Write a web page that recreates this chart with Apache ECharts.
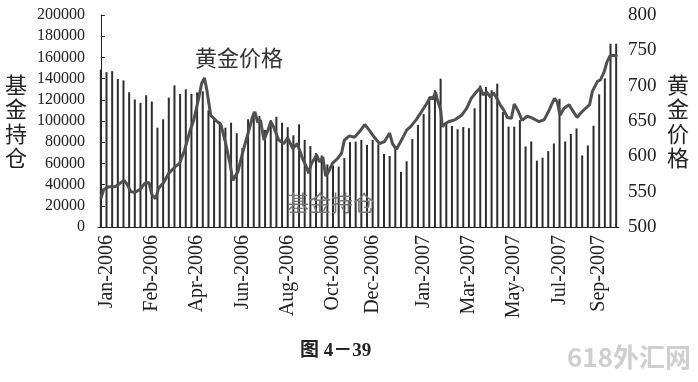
<!DOCTYPE html>
<html>
<head>
<meta charset="utf-8">
<script src="https://cdn.jsdelivr.net/npm/echarts@6/dist/echarts.min.js"></script>
<style>
html,body{margin:0;padding:0;background:#fff;}
#chart{width:698px;height:382px;}
</style>
</head>
<body>
<div id="chart"></div>
<script>
// Weekly fund holdings (基金持仓), Jan-2006 .. Sep-2007
const fundHolding = [
  148600,146100,147000,139600,138300,127100,120300,117100,124300,118400,
  93700,101600,122100,133600,125500,129900,125500,127000,128000,110000,
  102800,99400,93700,98400,88500,74500,101600,108700,104700,91600,
  100900,104000,98400,94100,86500,96900,82200,76300,69800,67500,
  59000,58000,57000,65000,80000,80500,82200,77500,82200,78000,
  69000,67000,75000,52000,62000,82900,96300,106500,122700,129000,
  139900,98500,95300,92200,94200,93200,112000,133600,132100,129000,
  135200,108500,94700,94700,100900,76000,80700,62600,65400,71600,
  78800,120900,80700,87800,93000,67500,76900,95600,125100,140200,
  172900,172900
];

// Gold price (黄金价格): reading position in weeks from start, and price
const goldWeek = [
  0,0.5,1.4,2.5,3.4,4.1,4.6,5.3,6.0,6.9,
  7.8,8.5,9.0,9.7,10.2,11.1,12.0,13.1,13.9,14.8,
  15.7,16.4,17.3,17.8,18.3,18.7,19.4,20.3,21.2,22.0,
  22.8,23.3,24.2,25.0,25.9,26.8,27.2,27.7,28.2,28.8,
  29.5,30.0,30.5,31.4,32.3,33.0,33.9,34.7,35.6,36.3,
  36.7,37.2,38.1,38.6,39.2,39.7,40.2,40.9,41.8,42.5,
  43.0,43.9,44.8,45.7,46.6,47.4,48.3,49.2,50.1,51.0,
  51.5,52.2,53.1,54.0,54.7,55.7,56.6,57.5,58.2,58.6,
  59.1,59.4,60.0,60.3,60.8,61.4,62.6,63.7,64.6,65.4,
  66.3,67.0,67.5,68.1,68.8,69.3,69.8,70.5,71.1,71.8,
  72.5,73.0,73.7,74.4,75.3,76.2,77.4,78.3,79.2,80.1,
  80.6,81.1,81.8,82.7,83.2,84.1,84.7,85.6,86.3,86.8,
  87.7,88.2,88.9,89.4,89.9,90.6,91.2
];
const goldPrice = [
  540,553,557,557,562,566,561,550,549,553,
  562,563,546,540,555,563,576,585,590,609,
  635,651,683,703,711,695,658,651,645,620,
  590,566,578,604,630,656,663,648,651,623,
  637,649,642,623,618,626,611,618,597,585,
  576,590,602,592,599,572,578,590,597,604,
  623,629,627,635,645,637,627,618,621,633,
  618,610,623,637,642,652,663,674,684,681,
  691,681,666,642,646,649,652,658,668,682,
  691,697,687,691,684,690,684,673,666,655,
  654,674,664,651,657,654,649,652,666,682,
  677,658,668,673,666,655,661,668,673,692,
  706,708,720,734,742,743,741
];

// X-axis tick labels and the week they sit under
const tickLabels = ['Jan-2006','Feb-2006','Apr-2006','Jun-2006','Aug-2006','Oct-2006','Dec-2006','Jan-2007','Mar-2007','May-2007','Jul-2007','Sep-2007'];
const tickWeek = [1,9,17,25,33,41,48,57,65,73,81,88];

const weekNo = fundHolding.map((_, i) => String(i + 1));

const serif = 'Liberation Serif';
const cjk = 'Noto Sans CJK SC';

const chart = echarts.init(document.getElementById('chart'), null, {renderer: 'canvas'});
chart.setOption({
  animation: false,
  backgroundColor: '#fff',
  grid: {left: 98, right: 79, top: 15, bottom: 155, containLabel: false},
  xAxis: [
    {
      type: 'category',
      data: weekNo,
      boundaryGap: true,
      axisLine: {show: true, lineStyle: {color: '#222', width: 1}},
      axisTick: {show: false},
      splitLine: {show: false},
      axisLabel: {
        interval: (idx) => tickWeek.indexOf(idx) >= 0,
        formatter: (v, idx) => { const k = tickWeek.indexOf(idx); return k >= 0 ? tickLabels[k] : ''; },
        rotate: 90,
        margin: 8,
        fontFamily: serif,
        fontSize: 20,
        color: '#222'
      }
    },
    {type: 'value', min: -0.5, max: 91.5, show: false}
  ],
  yAxis: [
    {
      type: 'value', min: 0, max: 200000, interval: 20000, position: 'left',
      axisLine: {show: true, lineStyle: {color: '#222'}},
      axisTick: {show: true, inside: true, length: 4, lineStyle: {color: '#222'}},
      splitLine: {show: false},
      axisLabel: {fontFamily: serif, fontSize: 16, color: '#222', margin: 13,
                  formatter: (v) => String(v)},
      name: '基\n金\n持\n仓',
      nameLocation: 'middle', nameRotate: 0, nameGap: 71,
      nameTextStyle: {fontFamily: cjk, fontSize: 22, lineHeight: 24.5, color: '#222', padding: [24, 0, 0, 0]}
    },
    {
      type: 'value', min: 500, max: 800, interval: 50, position: 'right',
      axisLine: {show: false}, axisTick: {show: false}, splitLine: {show: false},
      axisLabel: {fontFamily: serif, fontSize: 19, color: '#222', margin: 9,
                  formatter: (v) => String(v)},
      name: '黄\n金\n价\n格',
      nameLocation: 'middle', nameRotate: 0, nameGap: 48,
      nameTextStyle: {fontFamily: cjk, fontSize: 22, lineHeight: 24.5, color: '#222', padding: [0, 0, 28, 0]}
    }
  ],
  series: [
    {
      name: '基金持仓', type: 'bar', data: fundHolding,
      xAxisIndex: 0, yAxisIndex: 0, barWidth: 2,
      itemStyle: {color: '#2e2e2e'}
    },
    {
      name: '黄金价格', type: 'line',
      data: goldWeek.map((w, i) => [w, goldPrice[i]]),
      xAxisIndex: 1, yAxisIndex: 1,
      symbol: 'none', smooth: false, z: 5,
      lineStyle: {width: 3, color: '#505050'}
    }
  ],
  graphic: [
    {type: 'text', left: 195, top: 47, z: 10,
     style: {text: '黄金价格', font: '22px "Noto Sans CJK SC"', fill: '#333'}},
    {type: 'text', left: 287, top: 192, z: 10,
     style: {text: '基金持仓', font: '22px "Noto Sans CJK SC"', fill: '#777'}},
    {type: 'text', left: 300, top: 342, z: 10,
     style: {text: '图 4－39', font: 'bold 19px "Liberation Serif", "Noto Sans CJK SC"', fill: '#222'}},
    {type: 'text', left: 567, top: 344, z: 10,
     style: {text: '618外汇网', font: 'bold 26px "Noto Sans CJK SC"', fill: '#cfcfcf'}}
  ]
});
</script>
</body>
</html>
